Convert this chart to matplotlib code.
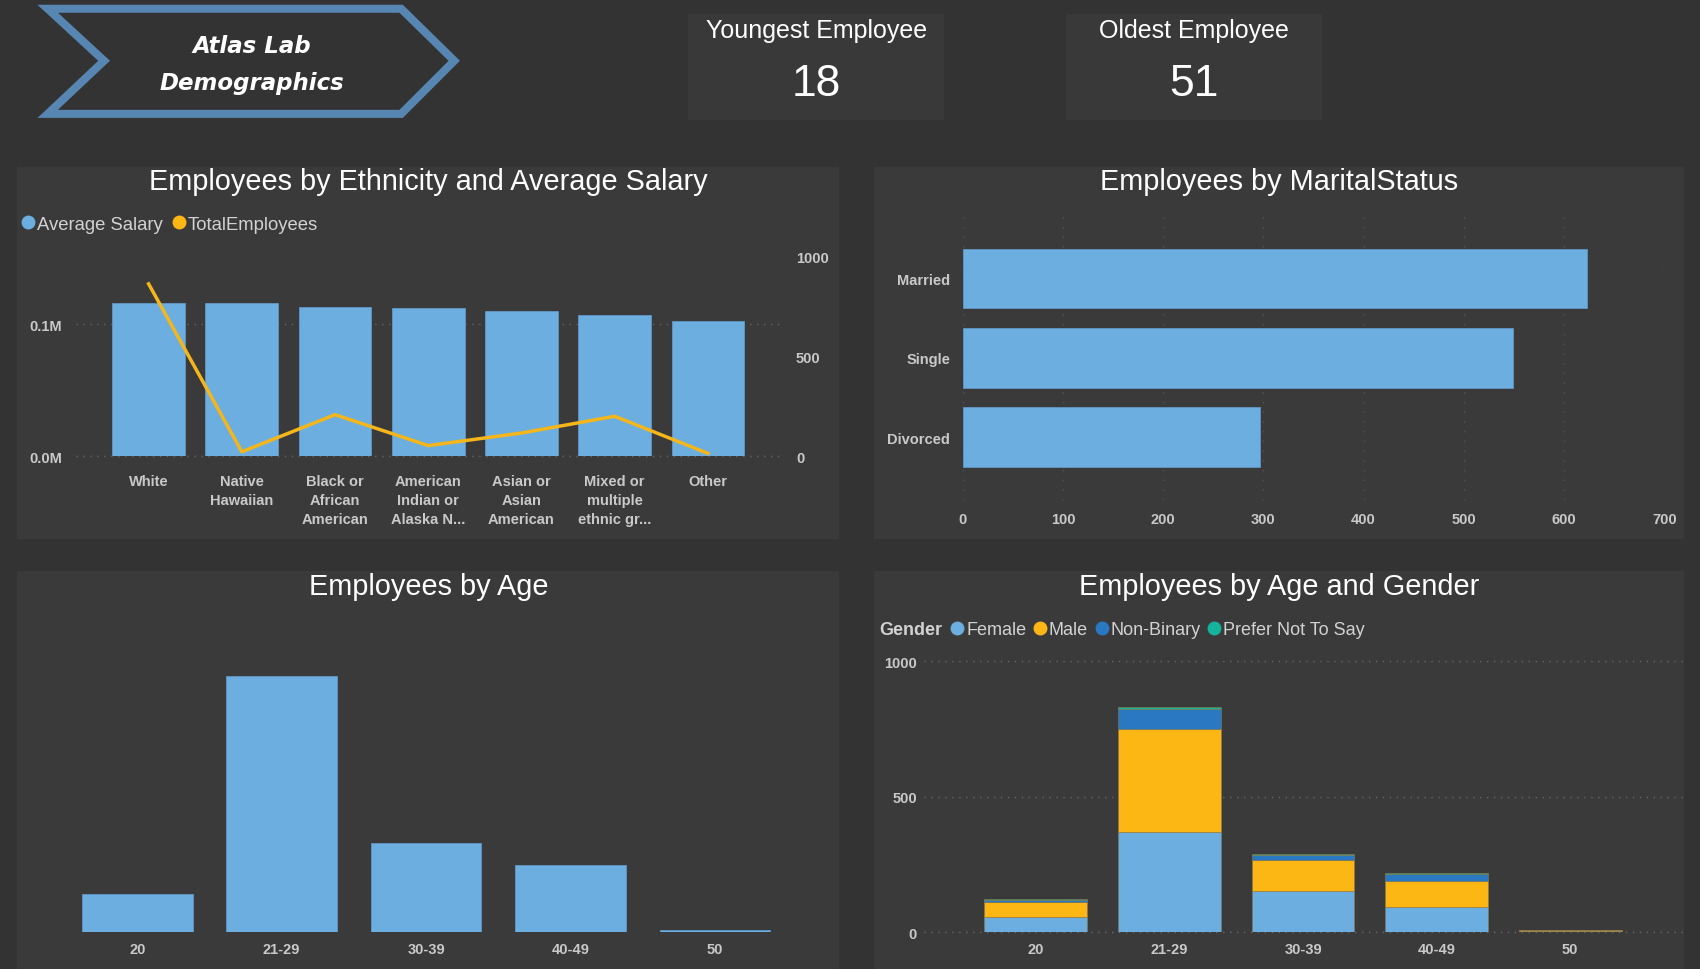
import matplotlib.pyplot as plt
from matplotlib.lines import Line2D
from matplotlib.patches import Polygon, Rectangle
import numpy as np

plt.rcParams['font.family'] = ['Liberation Sans', 'DejaVu Sans']

# data
ethnicities = ['White', 'Native\nHawaiian', 'Black or\nAfrican\nAmerican',
               'American\nIndian or\nAlaska N...', 'Asian or\nAsian\nAmerican',
               'Mixed or\nmultiple\nethnic gr...', 'Other']
avg_salary = [115600, 115600, 112600, 112300, 110100, 106600, 102000]
total_employees = [865, 23, 209, 54, 117, 201, 15]

marital = ['Married', 'Single', 'Divorced']
marital_counts = [623, 549, 297]

age_groups = ['20', '21-29', '30-39', '40-49', '50']
age_counts = [124, 830, 289, 219, 7]

genders = ['Female', 'Male', 'Non-Binary', 'Prefer Not To Say']
female = [57, 369, 151, 93, 3]
male = [54, 379, 117, 96, 4]
non_binary = [9, 75, 16, 25, 0]
prefer_not = [4, 7, 5, 5, 0]

youngest = 18
oldest = 51

# colours
BG = '#333333'
PANEL = '#3a3a3a'
BLUE = '#6caee0'
YELLOW = '#fdb714'
DARKBLUE = '#2a78c2'
TEAL = '#14b39b'
TXT = '#d2d2d2'
TICK = '#c9c9c9'
GRID = '#666666'

# layout is measured on a 1568x895 grid, scaled to the figure
W, H = 1568, 895


def box(x0, y0, x1, y1):
    return [x0 / W, 1 - y1 / H, (x1 - x0) / W, (y1 - y0) / H]


def fxy(x, y):
    return (x / W, 1 - y / H)


fig = plt.figure(figsize=(17, 9.7), dpi=100, facecolor=BG)


def panel(x0, y0, x1, y1, color=PANEL):
    b = box(x0, y0, x1, y1)
    fig.patches.append(Rectangle((b[0], b[1]), b[2], b[3], transform=fig.transFigure,
                                 facecolor=color, edgecolor='none', zorder=-5))


# banner
pts = [fxy(44, 9), fxy(370, 9), fxy(419, 57), fxy(370, 106), fxy(44, 106), fxy(96, 57)]
fig.patches.append(Polygon(pts, closed=True, transform=fig.transFigure, facecolor='none',
                           edgecolor='#5786b2', linewidth=5.8, joinstyle='miter'))
fig.text(*fxy(232, 43), 'Atlas Lab', ha='center', va='center', color='white',
         fontsize=16.5, fontweight='bold', fontstyle='italic', family='DejaVu Sans')
fig.text(*fxy(232, 77), 'Demographics', ha='center', va='center', color='white',
         fontsize=16.5, fontweight='bold', fontstyle='italic', family='DejaVu Sans')

# cards
for (x0, x1), title, val in [((635, 871), 'Youngest Employee', youngest),
                             ((983, 1219), 'Oldest Employee', oldest)]:
    panel(x0, 14, x1, 112, '#393939')
    cx = (x0 + x1) / 2
    fig.text(*fxy(cx, 29), title, ha='center', va='center', color='white', fontsize=18)
    fig.text(*fxy(cx, 78), str(val), ha='center', va='center', color='white', fontsize=32)

# panels
panel(16, 155, 774, 498)
panel(806, 155, 1553, 498)
panel(16, 528, 774, 895)
panel(806, 528, 1553, 895)

for (cx, cy), t in [((395, 168), 'Employees by Ethnicity and Average Salary'),
                    ((1180, 168), 'Employees by MaritalStatus'),
                    ((395, 542), 'Employees by Age'),
                    ((1180, 542), 'Employees by Age and Gender')]:
    fig.text(*fxy(cx, cy), t, ha='center', va='center', color='white', fontsize=20.8)


def style(ax):
    ax.set_facecolor('none')
    for s in ax.spines.values():
        s.set_visible(False)
    ax.tick_params(length=0, colors=TICK, labelsize=10.5)


def bold_ticks(ax):
    for lab in ax.get_xticklabels() + ax.get_yticklabels():
        lab.set_fontweight('bold')


# ethnicity + salary
ax1 = fig.add_axes(box(70, 238, 720, 422))
style(ax1)
x = np.arange(len(ethnicities))
ax1.bar(x, avg_salary, width=0.78, color=BLUE, edgecolor='#5f97c6', linewidth=0.6)
ax1.set_xlim(-0.78, len(ethnicities) - 0.22)
ax1.set_ylim(0, 150800)
ax1.set_yticks([0, 100000])
ax1.set_yticklabels(['0.0M', '0.1M'])
ax1.set_xticks(x)
ax1.set_xticklabels(ethnicities, linespacing=1.45)
ax1.tick_params(axis='y', pad=10)
ax1.tick_params(axis='x', pad=13)
ax1.yaxis.grid(True, linestyle=(0, (1, 4)), color=GRID, linewidth=1)
ax1.axhline(0, linestyle=(0, (1, 4)), color=GRID, linewidth=1, clip_on=False, zorder=0.5)
ax1.set_axisbelow(True)
bold_ticks(ax1)
ax1b = ax1.twinx()
style(ax1b)
ax1b.plot(x, total_employees, color='#f4b61a', linewidth=2.5)
ax1b.set_ylim(0, 1000)
ax1b.set_yticks([0, 500, 1000])
ax1b.tick_params(axis='y', pad=11)
bold_ticks(ax1b)

fig.legend([Line2D([], [], marker='o', ls='', color=BLUE, markersize=9),
            Line2D([], [], marker='o', ls='', color=YELLOW, markersize=9)],
           ['Average Salary', 'TotalEmployees'], loc='center left',
           bbox_to_anchor=fxy(20, 208), ncol=2, frameon=False, fontsize=13.3,
           labelcolor=TXT, handlelength=0.7, handletextpad=0.15, columnspacing=0.5,
           borderpad=0, borderaxespad=0)

# marital status
ax2 = fig.add_axes(box(888, 200, 1535, 462))
style(ax2)
y = np.arange(len(marital))
ax2.barh(y, marital_counts, height=0.753, color=BLUE, edgecolor='#5f97c6', linewidth=0.6)
ax2.set_ylim(len(marital) - 0.21, -0.79)
ax2.set_xlim(0, 700)
ax2.set_xticks(range(0, 701, 100))
ax2.set_yticks(y)
ax2.set_yticklabels(marital)
ax2.tick_params(axis='y', pad=9)
ax2.tick_params(axis='x', pad=9)
ax2.xaxis.grid(True, linestyle=(0, (1, 6)), color='#555555', linewidth=1)
ax2.set_axisbelow(True)
bold_ticks(ax2)

# age
ax3 = fig.add_axes(box(60, 570, 726, 861))
style(ax3)
xa = np.arange(len(age_groups))
ax3.bar(xa, age_counts, width=0.767, color=BLUE, edgecolor='#5f97c6', linewidth=0.6)
ax3.set_xlim(-0.5, len(age_groups) - 0.5)
ax3.set_ylim(0, 1023)
ax3.set_yticks([])
ax3.set_xticks(xa)
ax3.set_xticklabels(age_groups)
ax3.tick_params(axis='x', pad=7)
bold_ticks(ax3)

# age and gender
ax4 = fig.add_axes(box(852, 600, 1553, 861))
style(ax4)
bottom = np.zeros(len(age_groups))
for vals, col in [(female, BLUE), (male, YELLOW), (non_binary, DARKBLUE), (prefer_not, TEAL)]:
    ax4.bar(xa, vals, bottom=bottom, width=0.77, color=col, edgecolor='#8a7a50', linewidth=0.4)
    bottom += np.array(vals)
ax4.set_xlim(-0.84, 4.85)
ax4.set_ylim(0, 1044)
ax4.set_yticks([0, 500, 1000])
ax4.set_xticks(xa)
ax4.set_xticklabels(age_groups)
ax4.tick_params(axis='y', pad=5)
ax4.tick_params(axis='x', pad=7)
ax4.yaxis.grid(True, linestyle=(0, (1, 4)), color=GRID, linewidth=1)
ax4.axhline(0, linestyle=(0, (1, 4)), color=GRID, linewidth=1, clip_on=False, zorder=0.5)
ax4.set_axisbelow(True)
bold_ticks(ax4)

fig.text(*fxy(811, 582), 'Gender', ha='left', va='center', color=TXT,
         fontsize=13, fontweight='bold')
fig.legend([Line2D([], [], marker='o', ls='', color=c, markersize=9)
            for c in [BLUE, YELLOW, DARKBLUE, TEAL]],
           genders, loc='center left', bbox_to_anchor=fxy(877, 582), ncol=4,
           frameon=False, fontsize=13, labelcolor=TXT, handlelength=0.7,
           handletextpad=0.15, columnspacing=0.4, borderpad=0, borderaxespad=0)

fig.savefig('out.png', dpi=100, facecolor=BG)
